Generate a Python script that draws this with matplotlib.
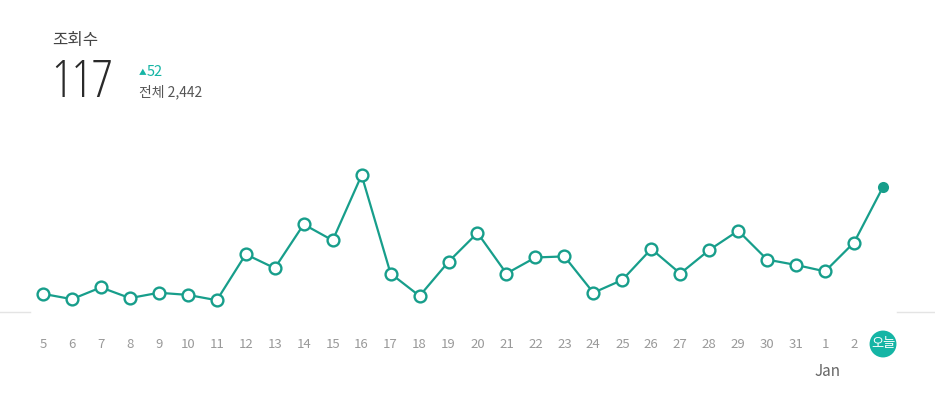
import matplotlib
matplotlib.use('Agg')
import matplotlib.pyplot as plt
from matplotlib import font_manager as fm

plt.rcParams['font.family'] = ['Noto Sans CJK KR', 'DejaVu Sans']

# ---- data ----
day_labels = ['5', '6', '7', '8', '9', '10', '11', '12', '13', '14', '15', '16',
              '17', '18', '19', '20', '21', '22', '23', '24', '25', '26', '27',
              '28', '29', '30', '31', '1', '2', '오늘']
views = [17, 12, 23, 13, 18, 16, 11, 54, 41, 82, 67, 128, 36, 15, 47, 74, 36,
         51, 52, 18, 30, 59, 36, 58, 76, 49, 44, 38, 65, 117]
title = '조회수'
today_value = '117'
delta = '52'
total_text = '전체 2,442'
month_label = 'Jan'
month_index = 27

LINE = '#179e8b'
TODAY = '#15b5a5'


def find_light_font():
    prefs = ['Open Sans', 'Noto Sans', 'Lato', 'Roboto', 'Inter', 'Noto Sans CJK KR']
    for fam in prefs:
        best = None
        for f in fm.fontManager.ttflist:
            if f.name == fam and f.style == 'normal':
                w = f.weight if isinstance(f.weight, int) else 400
                if w <= 300:
                    if best is None or abs(w - 300) < abs(best[1] - 300):
                        best = (f.fname, w)
        if best is not None:
            return fm.FontProperties(fname=best[0])
    return fm.FontProperties(family='Noto Sans CJK KR', weight='light')


W, H = 935, 401
fig = plt.figure(figsize=(W / 100, H / 100), dpi=100)
fig.patch.set_facecolor('white')

x0_px, step_px = 43, 28.966
ax = fig.add_axes([0, (H - 312) / H, 1, (312 - 150) / H])
ax.set_xlim(-x0_px / step_px, (W - x0_px) / step_px)
px_per_unit = 1.069
ax.set_ylim(0, (312 - 150) / px_per_unit)
for s in ax.spines.values():
    s.set_visible(False)
ax.set_yticks([])
ax.patch.set_alpha(0)

xs = list(range(len(views)))
ax.plot(xs, views, color=LINE, lw=1.6, zorder=2, clip_on=False)
ax.plot(xs[:-1], views[:-1], ls='none', marker='o', ms=8.5, mfc='white',
        mec=LINE, mew=1.7, zorder=3, clip_on=False)
ax.plot(xs[-1:], views[-1:], ls='none', marker='o', ms=8, mfc=LINE,
        mec=LINE, mew=0, zorder=3, clip_on=False)

ax.axhline(0, xmin=0, xmax=30 / W, color='#e4e4e4', lw=1, clip_on=False)
ax.axhline(0, xmin=897 / W, xmax=1, color='#e4e4e4', lw=1, clip_on=False)

ax.set_xticks(xs)
ax.set_xticklabels(day_labels)
ax.tick_params(axis='x', length=0, pad=32 * 0.72, labelsize=9.5, labelcolor='#999999')
for lbl in ax.get_xticklabels():
    lbl.set_va('center')
last = ax.get_xticklabels()[-1]
last.set_color('white')
last.set_fontsize(9.5)
last.set_bbox(dict(boxstyle='circle,pad=0.1', fc=TODAY, ec='none'))

ax.annotate(month_label, xy=(month_index, 0), xycoords=('data', 'axes fraction'),
            xytext=(2, -60 * 0.72), textcoords='offset points',
            ha='center', va='center', fontsize=11, color='#666666')

# header
fig.text(52 / W, 1 - 40 / H, title, fontsize=12, color='#444444', va='center', ha='left')
light = find_light_font()
light.set_size(37)
fig.text(51 / W, 1 - 97 / H, today_value, fontproperties=light, color='#2a2a2a',
         va='baseline', ha='left')
fig.text(139 / W, 1 - 75 / H, '▲', fontsize=5.5, color=TODAY, va='baseline', ha='left')
fig.text(147 / W, 1 - 75.5 / H, delta, fontsize=10.5, color=TODAY, va='baseline', ha='left')
fig.text(139 / W, 1 - 96 / H, total_text, fontsize=10, color='#555555', va='baseline', ha='left')

fig.savefig('out.png', dpi=100, facecolor='white')
